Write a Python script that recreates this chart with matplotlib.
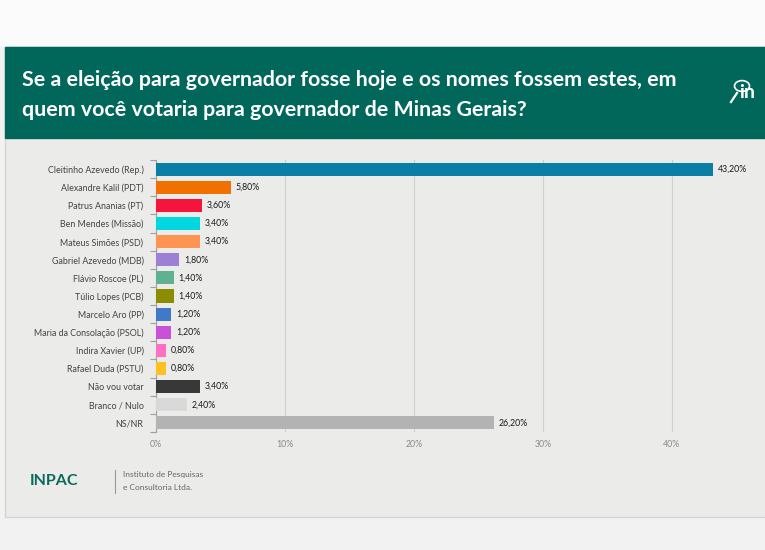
import matplotlib
matplotlib.use('Agg')
from matplotlib import pyplot as plt
from matplotlib.patches import Rectangle, Circle
from matplotlib.lines import Line2D
import numpy as np

plt.rcParams['font.family'] = ['Lato', 'DejaVu Sans']

candidatos = ['Cleitinho Azevedo (Rep.)', 'Alexandre Kalil (PDT)', 'Patrus Ananias (PT)',
              'Ben Mendes (Missão)', 'Mateus Simões (PSD)', 'Gabriel Azevedo (MDB)',
              'Flávio Roscoe (PL)', 'Túlio Lopes (PCB)', 'Marcelo Aro (PP)',
              'Maria da Consolação (PSOL)', 'Indira Xavier (UP)', 'Rafael Duda (PSTU)',
              'Não vou votar', 'Branco / Nulo', 'NS/NR']
votos = [43.2, 5.8, 3.6, 3.4, 3.4, 1.8, 1.4, 1.4, 1.2, 1.2, 0.8, 0.8, 3.4, 2.4, 26.2]
cores = ['#0b7ea5', '#f07000', '#f5143c', '#00d8e0', '#ff9352', '#9b80d6', '#5fb191',
         '#8c8c00', '#4079c8', '#c950d8', '#ff6fc2', '#ffc024', '#383838', '#d9d9d9', '#b3b3b3']
xticks = [0, 10, 20, 30, 40]

W, H = 765, 550
fig = plt.figure(figsize=(W/100, H/100), dpi=100)
fig.patch.set_facecolor('#f2f2f2')

def px(x0, y0, x1, y1):
    # pixel box (top-left origin) -> figure fraction rect
    return (x0/W, 1-y1/H), (x1-x0)/W, (y1-y0)/H

xy, w, h = px(0, 0, W, 45)
fig.patches.append(Rectangle(xy, w, h, transform=fig.transFigure, color='#fbfbfb', zorder=0))
xy, w, h = px(5, 47, W+5, 517)
fig.patches.append(Rectangle(xy, w, h, transform=fig.transFigure, facecolor='#ebebea',
                             edgecolor='#d4d4d4', lw=1, zorder=0))
xy, w, h = px(5, 47, W+5, 138)
fig.patches.append(Rectangle(xy, w, h, transform=fig.transFigure, color='#02675b', zorder=1))

fig.text(22/W, 1-80/H, 'Se a eleição para governador fosse hoje e os nomes fossem estes, em',
         color='white', fontsize=15.4, fontweight='bold', va='center', ha='left')
fig.text(22/W, 1-110/H, 'quem você votaria para governador de Minas Gerais?',
         color='white', fontsize=15.4, fontweight='bold', va='center', ha='left')

# logo at top right
fig.patches.append(Circle((742/W, 1-86/H), 7.5/W, transform=fig.transFigure, fill=False,
                          edgecolor='white', lw=1.2, zorder=2))
fig.lines.append(Line2D([731/W, 737/W], [1-102/H, 1-93/H], transform=fig.transFigure,
                        color='white', lw=1.6, zorder=2))
fig.text(739/W, 1-93/H, 'in', color='white', fontsize=14, fontweight='bold', va='center', ha='left')

ax = fig.add_axes([156/W, 1-432/H, (762-156)/W, (432-160)/H])
ax.set_zorder(5)
ax.set_facecolor('none')
y = np.arange(len(candidatos))
ax.barh(y, votos, height=0.72, color=cores, zorder=3)
for yi, v in zip(y, votos):
    ax.text(v + 0.35, yi, f'{v:.2f}%'.replace('.', ','), va='center', ha='left',
            fontsize=6.3, color='#1a1a1a', zorder=4)

ax.set_ylim(len(candidatos)-0.5, -0.5)
ax.set_xlim(0, 47)
ax.set_yticks(y)
ax.set_yticklabels(candidatos, fontsize=6.4, color='#444444')
ax.set_yticks(np.arange(-0.5, len(candidatos)), minor=True)
ax.tick_params(axis='y', which='major', length=0, pad=9)
ax.tick_params(axis='y', which='minor', length=4, color='#a0a0a0', width=0.8)
ax.set_xticks(xticks)
ax.set_xticklabels([f'{t}%' for t in xticks], fontsize=6.3, color='#8a8a8a')
ax.tick_params(axis='x', length=0, pad=6)
ax.grid(axis='x', color='#d0d0d0', lw=0.8, zorder=0)
for s in ['top', 'right', 'bottom']:
    ax.spines[s].set_visible(False)
ax.spines['left'].set_color('#a0a0a0')
ax.spines['left'].set_linewidth(0.8)

# footer
fig.text(30/W, 1-481/H, 'INPAC', color='#0b6a5a', fontsize=11.5, fontweight='bold', va='center')
fig.lines.append(Line2D([115/W, 115/W], [1-470/H, 1-493/H], transform=fig.transFigure,
                        color='#9a9a9a', lw=0.8))
fig.text(123/W, 1-474/H, 'Instituto de Pesquisas', color='#666666', fontsize=6, va='center')
fig.text(123/W, 1-487/H, 'e Consultoria Ltda.', color='#666666', fontsize=6, va='center')

fig.savefig('out.png', dpi=100, facecolor=fig.get_facecolor())
